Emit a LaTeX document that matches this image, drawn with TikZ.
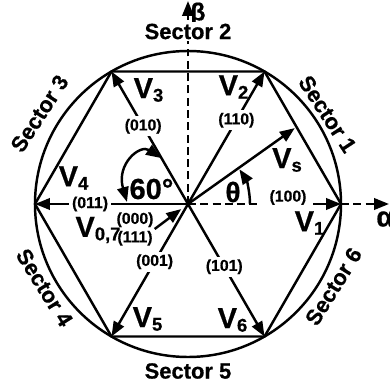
\documentclass[tikz,border=0pt]{standalone}
\usepackage{fontspec}
\setmainfont{Liberation Sans}[BoldFeatures={FakeBold=0.6}]
\usetikzlibrary{arrows.meta}

\newcommand\vsub[1]{\raisebox{-2pt}{\fontsize{10.5}{10.5}\selectfont #1}}

\begin{document}
\begin{tikzpicture}[x=0.02cm,y=0.02cm,line width=1.4pt,>={Triangle[length=8.5pt,width=6.5pt]},
  axis/.style={dash pattern=on 4.5pt off 2.5pt},
  sector/.style={font=\bfseries\fontsize{12.5}{14}\selectfont,inner sep=1pt},
  code/.style={font=\bfseries\fontsize{9}{10.5}\selectfont,fill=white,inner sep=1.5pt},
  vlab/.style={font=\bfseries\fontsize{16.5}{16.5}\selectfont,inner sep=0pt},
  greek/.style={font=\bfseries\fontsize{16}{16}\selectfont,inner sep=0pt}
]
  \useasboundingbox (-188,-185) rectangle (201,204);

  \coordinate (O) at (0,0);
  \foreach \k in {1,...,6}
    \coordinate (v\k) at ({(\k-1)*60}:153);
  \coordinate (alpha) at (201,0);
  \coordinate (beta) at (0,203);
  \coordinate (vs) at (35.4:131);
  \coordinate (a1) at (72,0);
  \coordinate (a2) at (125,0);

  % circle and hexagon
  \draw (O) circle (153);
  \draw (v1) -- (v2) -- (v3) -- (v4) -- (v5) -- (v6) -- cycle;

  % axes
  \draw[axis,->] (O) -- (beta);
  \node[greek,font=\bfseries\fontsize{14}{14}\selectfont] (lbeta) at (10,190) {β};
  \draw[axis] (O) -- (a1);
  \draw[axis,->] (v1) -- (alpha);
  \node[greek] (lalpha) at (197,-15) {α};

  % sectors
  \node[sector] (sec1) at (139.5,90) [rotate=-57] {Sector 1};
  \node[sector,fill=white] (sec2) at (0,172.5) {Sector 2};
  \node[sector] (sec3) at (-148.5,90.5) [rotate=57] {Sector 3};
  \node[sector] (sec4) at (-143.5,-83.5) [rotate=-58] {Sector 4};
  \node[sector] (sec5) at (0,-167) {Sector 5};
  \node[sector] (sec6) at (145.5,-82.5) [rotate=58] {Sector 6};

  % switching vectors
  \node[code,fill=none] (c100) at (100,6.5) {(100)};
  \draw[->] (a2) -- (v1);
  \draw[->] (O) -- node[code,pos=0.632] (c110) {(110)} (v2);
  \draw[->] (O) -- node[code,pos=0.586] (c010) {(010)} (v3);
  \draw[->] (O) -- node[code,pos=0.64] (c011) {(011)} (v4);
  \draw[->] (O) -- node[code,pos=0.436] (c001) {(001)} (v5);
  \draw[->] (O) -- node[code,pos=0.474] (c101) {(101)} (v6);
  \draw[->] (O) -- (vs);

  \node[vlab] (l1) at (121.5,-19) {V\vsub{1}};
  \node[vlab] (l2) at (45.5,117) {V\vsub{2}};
  \node[vlab] (l3) at (-39.5,114) {V\vsub{3}};
  \node[vlab] (l4) at (-114.5,26) {V\vsub{4}};
  \node[vlab] (l5) at (-40.5,-115) {V\vsub{5}};
  \node[vlab] (l6) at (44.5,-116) {V\vsub{6}};
  \node[vlab] (ls) at (99,44) {V\vsub{s}};

  % zero vectors
  \node[code,fill=none,align=center,inner sep=0pt] (c0) at (-53,-25) {(000)\\(111)};
  \node[vlab] (l0) at (-90,-26) {V\vsub{0,7}};
  \draw[->,shorten >=4.8pt] (c0.east) -- (O);

  % angles
  \draw[->] (62,0) arc[start angle=0,end angle=34,radius=62];
  \node[greek] (ltheta) at (45,12) {θ};
  \draw[<->] (-27,46) .. controls (-48,60) and (-72,40) .. (-61,2);
  \node[vlab] (l60) at (-36.5,15) {60°};
\end{tikzpicture}
\end{document}
